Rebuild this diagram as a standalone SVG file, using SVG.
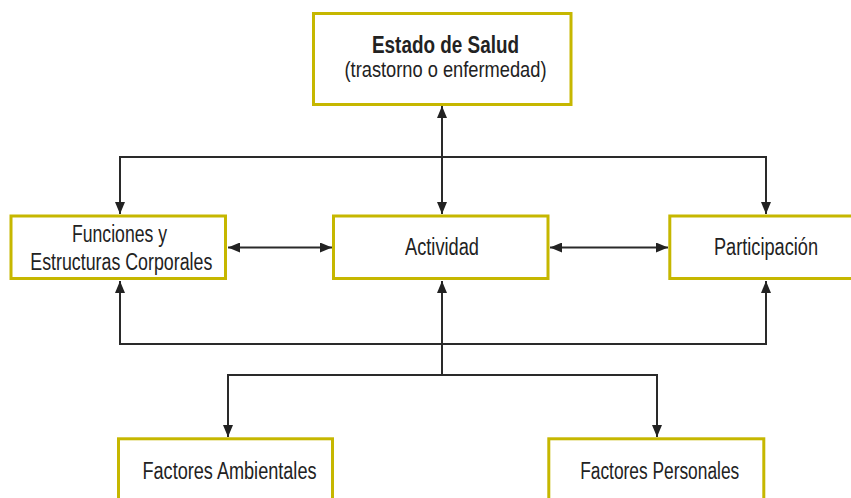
<svg xmlns="http://www.w3.org/2000/svg" width="851" height="498" viewBox="0 0 851 498">
  <defs>
    <marker id="arr" markerUnits="userSpaceOnUse" markerWidth="12" markerHeight="10" refX="12" refY="5" orient="auto-start-reverse">
      <path d="M0,0 L12,5 L0,10 z" fill="#222"/>
    </marker>
    <style>
      .box { fill: #fff; stroke: #c6b700; stroke-width: 3; }
      .lbl { font-family: "Liberation Sans", Arial, sans-serif; font-size: 23px; fill: #222; text-anchor: middle; }
      .b { font-weight: bold; }
      .con { fill: none; stroke: #2a2a2a; stroke-width: 2; }
      .arw { marker-start: url(#arr); marker-end: url(#arr); }
    </style>
  </defs>
  <rect width="851" height="498" fill="#fff"/>

  <g id="connectors">
    <path class="con arw" d="M442,214 V106"/>
    <path class="con arw" d="M120,214 V157 H766 V214"/>
    <path class="con arw" d="M228,247.5 H332"/>
    <path class="con arw" d="M550,247.5 H668"/>
    <path class="con arw" d="M120,281 V344 H766 V281"/>
    <path class="con" d="M442,375 V281" marker-end="url(#arr)"/>
    <path class="con arw" d="M228,437 V375 H657 V437"/>
  </g>

  <g id="estado">
    <rect class="box" x="313.5" y="13.5" width="257.5" height="91"/>
    <text class="lbl b" x="445.5" y="52.5" textLength="147" lengthAdjust="spacingAndGlyphs">Estado de Salud</text>
    <text class="lbl" x="445.5" y="77" style="font-size:22px" textLength="202" lengthAdjust="spacingAndGlyphs">(trastorno o enfermedad)</text>
  </g>

  <g id="funciones">
    <rect class="box" x="11" y="216" width="214.5" height="62.5"/>
    <text class="lbl" x="119.5" y="241.5" textLength="95" lengthAdjust="spacingAndGlyphs">Funciones y</text>
    <text class="lbl" x="121.3" y="270" textLength="182" lengthAdjust="spacingAndGlyphs">Estructuras Corporales</text>
  </g>

  <g id="actividad">
    <rect class="box" x="333.5" y="216" width="214.5" height="62.5"/>
    <text class="lbl" x="442" y="254.5" textLength="74" lengthAdjust="spacingAndGlyphs">Actividad</text>
  </g>

  <g id="participacion">
    <rect class="box" x="669.8" y="216" width="200" height="62.5"/>
    <text class="lbl" x="766" y="255" textLength="104" lengthAdjust="spacingAndGlyphs">Participación</text>
  </g>

  <g id="ambientales">
    <rect class="box" x="118.5" y="438.8" width="214" height="80"/>
    <text class="lbl" x="229.5" y="479.3" textLength="174" lengthAdjust="spacingAndGlyphs">Factores Ambientales</text>
  </g>

  <g id="personales">
    <rect class="box" x="548.8" y="438.8" width="215" height="80"/>
    <text class="lbl" x="659.7" y="479.3" textLength="159" lengthAdjust="spacingAndGlyphs">Factores Personales</text>
  </g>
</svg>
